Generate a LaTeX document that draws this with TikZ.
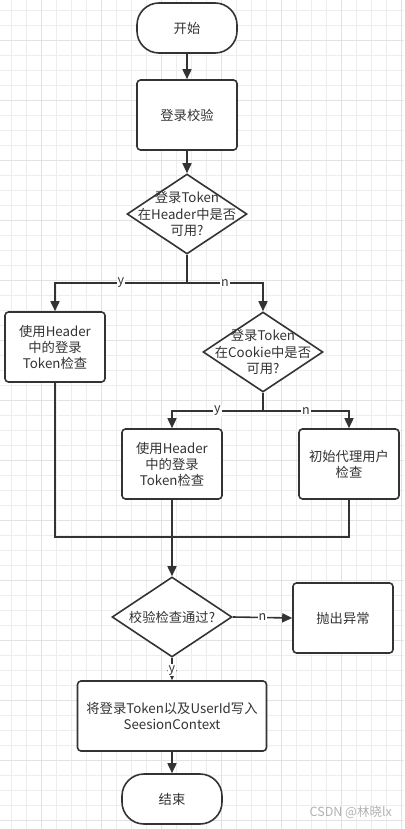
\documentclass[tikz,border=0pt]{standalone}
\usepackage{fontspec}
\setmainfont{Noto Sans CJK SC}
\usetikzlibrary{shapes.geometric,arrows.meta}
\definecolor{ink}{HTML}{333333}
\definecolor{gridc}{HTML}{EDEDED}
\definecolor{gridd}{HTML}{E2E2E2}
\tikzset{
  base/.style={draw=ink, line width=1.6pt, text=ink, font=\fontsize{13.3}{16}\selectfont, align=center, inner sep=0pt},
  term/.style={base, rounded corners=22pt, minimum width=100pt, minimum height=50pt},
  proc/.style={base, rounded corners=3.5pt, minimum width=100pt, minimum height=70pt},
  dia/.style={base, diamond, minimum width=120pt, minimum height=80pt, fill=white},
  dtext/.style={text=ink, font=\fontsize{13.3}{16.5}\selectfont, align=center, inner sep=0pt},
  conn/.style={draw=ink, line width=1.6pt},
  arr/.style={conn, -{Triangle[length=10pt,width=9pt]}},
  lbl/.style={fill=white, text=ink, font=\fontsize{12.5}{14}\selectfont, inner sep=1pt},
}
\begin{document}
\begin{tikzpicture}[x=1pt,y=-1pt]
\fill[white] (0,0) rectangle (404,829);
\useasboundingbox (0,0) rectangle (404,829);
% grid
\foreach \x in {11,26,...,401} \draw[gridc, line width=0.8pt] (\x,0) -- (\x,829);
\foreach \y in {10,25,...,826} \draw[gridc, line width=0.8pt] (0,\y) -- (404,\y);
\foreach \x in {41,101,...,401} \draw[gridd, line width=0.8pt] (\x,0) -- (\x,829);
\foreach \y in {40,100,...,826} \draw[gridd, line width=0.8pt] (0,\y) -- (404,\y);
% nodes
\node[term, fill=white] (start) at (187,28) {开始};
\node[proc, fill=white] (check) at (187,115) {登录校验};
\node[dia] (d1) at (187,214) {};
\node[dtext] at (d1) {登录Token\\在Header中是否\\可用?};
\node[proc, fill=white] (b1) at (55,347) {使用Header\\中的登录\\Token检查};
\node[dia] (d2) at (263,352) {};
\node[dtext] at (d2) {登录Token\\在Cookie中是否\\可用?};
\node[proc, fill=white] (b2) at (172,464) {使用Header\\中的登录\\Token检查};
\node[proc, fill=white] (b3) at (349,464) {初始代理用户\\检查};
\node[dia] (d3) at (172,617) {};
\node[dtext] at (d3) {校验检查通过?};
\node[proc, fill=white] (err) at (343,618) {抛出异常};
\node[proc, fill=white, minimum width=189pt] (write) at (172,716) {将登录Token以及UserId写入\\SeesionContext};
\node[term, fill=white] (end) at (172,799) {结束};
\node[text=black!30, font=\fontsize{12.5}{14}\selectfont, anchor=east, inner sep=0pt] (wm) at (392,812) {CSDN @林晓lx};
% coordinates
\coordinate (j1) at (187,283);
\coordinate (j2) at (263,411);
\coordinate (j3) at (172,537);
% connectors
\draw[arr] (start) -- (check);
\draw[arr] (check) -- (d1.north);
\draw[conn] (d1.south) -- (j1);
\draw[arr] (j1) -| node[lbl, pos=0.25] {y} (b1.north);
\draw[arr] (j1) -| node[lbl, pos=0.25] {n} (d2.north);
\draw[conn] (d2.south) -- (j2);
\draw[arr] (j2) -| node[lbl, pos=0.25] {y} (b2.north);
\draw[arr] (j2) -| node[lbl, pos=0.25] {n} (b3.north);
\draw[conn] (b1.south) |- (j3);
\draw[conn] (b3.south) |- (j3);
\draw[arr] (b2.south) -- (d3.north);
\draw[arr] (d3.east) -- node[lbl, pos=0.5] {n} (err.west);
\draw[arr] (d3.south) -- node[lbl, pos=0.55] {y} (write.north);
\draw[arr] (write) -- (end);
\end{tikzpicture}
\end{document}
